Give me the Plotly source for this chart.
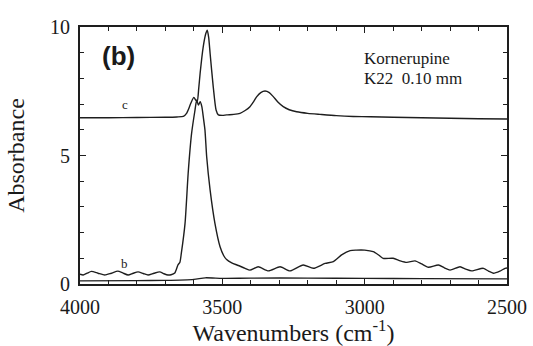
import plotly.graph_objects as go

# Trace c (thick sample, offset)
wn_c = [4000, 3900, 3800, 3700, 3660, 3637, 3625, 3620, 3610, 3600, 3593, 3588, 3583, 3578,
        3567, 3558, 3553, 3548, 3543, 3532, 3522, 3514, 3500, 3485, 3460, 3438, 3420, 3403,
        3390, 3379, 3365, 3350, 3335, 3321, 3305, 3286, 3265, 3239, 3200, 3157, 3100, 3040,
        2980, 2900, 2800, 2700, 2600, 2500]
abs_c = [6.47, 6.47, 6.48, 6.49, 6.50, 6.52, 6.65, 6.77, 7.05, 7.26, 7.15, 7.12, 7.6, 8.2,
         9.24, 9.75, 9.88, 9.6, 8.98, 7.68, 6.77, 6.58, 6.56, 6.58, 6.60, 6.64, 6.75, 6.9,
         7.1, 7.29, 7.45, 7.51, 7.45, 7.29, 7.08, 6.9, 6.78, 6.70, 6.64, 6.60, 6.55, 6.52,
         6.51, 6.49, 6.47, 6.45, 6.43, 6.42]

# Trace b
wn_b = [4000, 3989, 3975, 3960, 3937, 3913, 3890, 3867, 3850, 3831, 3813, 3796, 3778, 3761,
        3740, 3720, 3705, 3691, 3680, 3667, 3656, 3649, 3644, 3631, 3620, 3608, 3596, 3590,
        3584, 3578, 3572, 3567, 3561, 3555, 3543, 3526, 3508, 3495, 3485, 3467, 3444, 3420,
        3403, 3374, 3338, 3297, 3262, 3216, 3180, 3139, 3110, 3081, 3051, 3030, 3000, 2970,
        2950, 2935, 2900, 2875, 2852, 2823, 2800, 2776, 2741, 2720, 2700, 2665, 2645, 2624,
        2583, 2565, 2548, 2525, 2507, 2500]
abs_b = [0.38, 0.35, 0.42, 0.49, 0.42, 0.35, 0.42, 0.50, 0.43, 0.35, 0.42, 0.47, 0.41, 0.35,
         0.42, 0.47, 0.40, 0.35, 0.36, 0.43, 0.74, 0.85, 1.2, 2.36, 4.31, 5.86, 6.77, 7.16,
         6.96, 7.09, 6.9, 6.51, 5.99, 4.95, 3.66, 2.36, 1.45, 1.1, 0.95, 0.82, 0.72, 0.61,
         0.54, 0.67, 0.51, 0.67, 0.51, 0.74, 0.61, 0.8, 0.87, 1.13, 1.30, 1.32, 1.32, 1.26,
         1.12, 1.0, 1.0, 0.9, 0.84, 0.9, 0.78, 0.65, 0.74, 0.63, 0.54, 0.67, 0.58, 0.51,
         0.61, 0.5, 0.42, 0.5, 0.61, 0.62]

# Trace a (thin sample, near zero)
wn_a = [4000, 3800, 3700, 3600, 3560, 3500, 3400, 3200, 3000, 2800, 2500]
abs_a = [0.12, 0.13, 0.14, 0.18, 0.24, 0.22, 0.23, 0.23, 0.22, 0.21, 0.20]

x_ticks = [4000, 3500, 3000, 2500]
y_ticks = [0, 5, 10]

line_col = "#1e1e1e"
serif = "Liberation Serif"
txt_col = "#1a1a1a"

fig = go.Figure()
for wn, ab in [(wn_a, abs_a), (wn_b, abs_b), (wn_c, abs_c)]:
    fig.add_trace(go.Scatter(x=wn, y=ab, mode="lines",
                             line=dict(color=line_col, width=1.4, shape="spline", smoothing=0.6),
                             showlegend=False, hoverinfo="skip"))

axis_common = dict(
    showline=True, linecolor=line_col, linewidth=2, mirror="allticks",
    ticks="inside", ticklen=6, tickwidth=1.2, tickcolor=line_col,
    showgrid=False, zeroline=False,
    tickfont=dict(family=serif, size=20, color=txt_col),
)

fig.update_xaxes(range=[4000, 2500], tickvals=x_ticks, ticklabelstandoff=4,
                 minor=dict(dtick=100, ticks="inside", ticklen=4, tickcolor=line_col, tickwidth=1),
                 title=dict(text="Wavenumbers (cm<sup>-1</sup>)",
                            font=dict(family=serif, size=24, color=txt_col), standoff=6),
                 **axis_common)
fig.update_yaxes(range=[0, 10], tickvals=y_ticks, ticklabelstandoff=4,
                 minor=dict(dtick=1, ticks="inside", ticklen=4, tickcolor=line_col, tickwidth=1),
                 title=dict(text="Absorbance",
                            font=dict(family=serif, size=24, color=txt_col), standoff=19),
                 **axis_common)

ann_font = dict(family=serif, size=17, color=txt_col)
fig.add_annotation(x=0.660, y=0.879, xref="paper", yref="paper", text="Kornerupine",
                   showarrow=False, xanchor="left", yanchor="middle", font=ann_font)
fig.add_annotation(x=0.660, y=0.798, xref="paper", yref="paper", text="K22\u00a0\u00a00.10 mm",
                   showarrow=False, xanchor="left", yanchor="middle", font=ann_font)
fig.add_annotation(x=0.089, y=0.887, xref="paper", yref="paper", text="<b>(b)</b>",
                   showarrow=False, xanchor="center", yanchor="middle",
                   font=dict(family="Liberation Sans", size=26, color=txt_col))
fig.add_annotation(x=0.105, y=0.697, xref="paper", yref="paper", text="c",
                   showarrow=False, xanchor="center", yanchor="middle",
                   font=dict(family=serif, size=13, color=txt_col))
fig.add_annotation(x=0.105, y=0.078, xref="paper", yref="paper", text="b",
                   showarrow=False, xanchor="center", yanchor="middle",
                   font=dict(family=serif, size=13, color=txt_col))

fig.update_layout(width=533, height=346,
                  margin=dict(l=80, r=26, t=27, b=62, autoexpand=False),
                  paper_bgcolor="white", plot_bgcolor="white")

fig.write_html("out.html")
